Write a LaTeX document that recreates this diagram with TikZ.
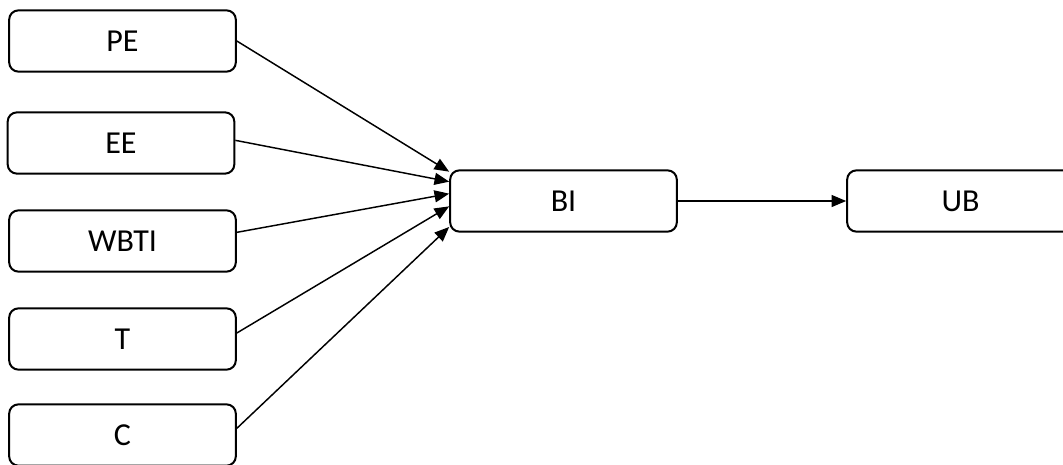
\documentclass[tikz,border=0pt]{standalone}
\usepackage{fontspec}
\setmainfont{Carlito}
\usepackage{tikz}
\usetikzlibrary{arrows.meta}

\begin{document}
\begin{tikzpicture}[x = 0.75pt, y = -0.75pt, >={Triangle[length=11pt, width=9pt]}]
        \tikzstyle{every node} = [rectangle, draw, line width = 1.5pt, rounded corners = 7pt, minimum width = 170pt, minimum height = 46pt, font = \fontsize{24}{29}\selectfont]
        \useasboundingbox (0, 0) rectangle (1063, 464);
        \node(PE) at (122.5, 41) {PE};
        \node(EE) at (121, 143) {EE};
        \node(WBTI) at (122.5, 241) {WBTI};
        \node(T) at (122.5, 339) {T};
        \node(C) at (122.5, 435) {C};

        \node(BI) at (563.5, 201) {BI};
        \node(UB) at (960.5, 201) {UB};

        \draw [->, line width = 1.1pt] (PE.east) -- ([yshift = 22pt]BI.west);
        \draw [->, line width = 1.1pt] ([yshift = 2pt]EE.east) -- ([yshift = 14.5pt]BI.west);
        \draw [->, line width = 1.1pt] ([yshift = 6.5pt]WBTI.east) -- ([yshift = 5.5pt]BI.west);
        \draw [->, line width = 1.1pt] ([yshift = 4.5pt]T.east) -- ([yshift = -4pt]BI.west);
        \draw [->, line width = 1.1pt] ([yshift = 5pt]C.east) -- ([yshift = -19.5pt]BI.west);

        \draw [->, line width = 1.1pt] (BI.east) -- (UB.west);

    \end{tikzpicture}
\end{document}
